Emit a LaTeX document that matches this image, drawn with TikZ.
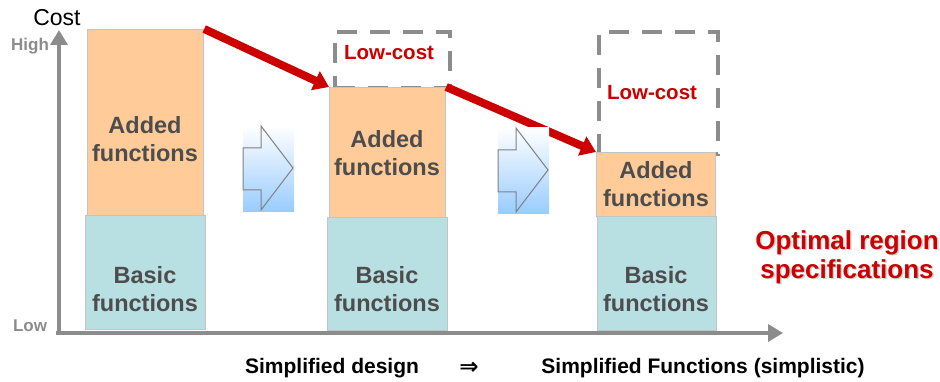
\documentclass[tikz,border=0pt]{standalone}
\usepackage{fontspec}
\setmainfont{Liberation Sans}
\newfontfamily\symfont{DejaVu Sans}
\usetikzlibrary{arrows.meta}

\definecolor{peach}{HTML}{FFCC99}
\definecolor{paleteal}{HTML}{B8DFE2}
\definecolor{edgegray}{HTML}{C4C4C4}
\definecolor{txtgray}{HTML}{4D4D4D}
\definecolor{axisgray}{HTML}{8C8C8C}
\definecolor{costred}{HTML}{CC0000}
\definecolor{skyblue}{HTML}{99CCFF}

\begin{document}
\begin{tikzpicture}[x=1pt,y=-1pt,
  bar/.style={draw=edgegray, line width=1.2pt, inner sep=0pt, anchor=north west},
  addbar/.style={bar, fill=peach},
  basebar/.style={bar, fill=paleteal},
  boxtxt/.style={text=txtgray, font=\fontsize{23.5}{28}\selectfont\bfseries, align=center, inner sep=0pt},
  dashbox/.style={draw=axisgray, line width=4pt, dash pattern=on 20pt off 13pt, inner sep=0pt, anchor=north west},
  lowtxt/.style={text=costred, font=\fontsize{20.5}{24}\selectfont\bfseries, inner sep=0pt},
  axis/.style={draw=axisgray, line width=3.5pt, -{Triangle[width=17pt,length=15pt]}},
  redarrow/.style={draw=costred, line width=8pt, -{Triangle[width=20pt,length=15pt]}},
  blockbg/.style={anchor=north west, inner sep=0pt, minimum width=51pt, minimum height=86pt,
    top color=white, bottom color=skyblue},
  blockline/.style={draw=gray, line width=1pt, line join=miter},
  axlabel/.style={text=axisgray, font=\fontsize{17}{20}\selectfont\bfseries, inner sep=0pt},
  captxt/.style={font=\fontsize{21}{24}\selectfont\bfseries, inner sep=0pt},
  notetxt/.style={font=\fontsize{26}{29}\selectfont\bfseries, align=center, inner sep=0pt}
]
\useasboundingbox (0,0) rectangle (940,382);

% axes
\coordinate (origin) at (59,333);
\coordinate (ytip) at (59,30);
\coordinate (xstart) at (56,333);
\coordinate (xtip) at (783,333);
\draw[axis] (origin) -- (ytip);
\draw[axis] (xstart) -- (xtip);
\node[font=\fontsize{23}{26}\selectfont, inner sep=0pt] (cost) at (57,18) {Cost};
\node[axlabel] (high) at (30,46) {High};
\node[axlabel] (low) at (30,326) {Low};

% dashed cost-reduction boxes
\node[dashbox, minimum width=115pt, minimum height=56pt] (cut2) at (333,30) {};
\node[dashbox, minimum width=119pt, minimum height=122pt] (cut3) at (597,30) {};

% stacked bars
\node[basebar, minimum width=120pt, minimum height=114pt] (bas1) at (85,215) {};
\node[addbar, minimum width=116pt, minimum height=186pt] (add1) at (87,29) {};
\node[basebar, minimum width=120pt, minimum height=113pt] (bas2) at (327,217) {};
\node[addbar, minimum width=116pt, minimum height=130pt] (add2) at (329,87) {};
\node[basebar, minimum width=119pt, minimum height=114pt] (bas3) at (597,216) {};
\node[addbar, minimum width=119pt, minimum height=64pt] (add3) at (596,152) {};

% bar labels
\node[boxtxt] (add1t) at (145,139) {Added\\functions};
\node[boxtxt] (bas1t) at (145,289) {Basic\\functions};
\node[boxtxt] (add2t) at (387,153) {Added\\functions};
\node[boxtxt] (bas2t) at (387,289) {Basic\\functions};
\node[boxtxt] (add3t) at (656,184) {Added\\functions};
\node[boxtxt] (bas3t) at (656,289) {Basic\\functions};
\node[lowtxt] (cut2t) at (389,53) {Low-cost};
\node[lowtxt] (cut3t) at (652,93) {Low-cost};

% cost trend arrows
\draw[redarrow] (add1.north east) -- (add2.north west);
\draw[redarrow] (add2.north east) -- (add3.north west);

% step arrows
\node[blockbg] (step1) at (243,125) {};
\node[blockbg] (step2) at (498,127) {};
\foreach \s in {step1,step2}{
  \begin{scope}[shift={(\s.north west)}]
    \draw[blockline] (0,23) -- (18,23) -- (18,1) -- (50,43) -- (18,85) -- (18,65) -- (0,65) -- cycle;
  \end{scope}
}

% side note with a soft shadow
\node[notetxt, text=black, opacity=0.18] (optshadow) at (848.5,258.5) {Optimal region\\specifications};
\node[notetxt, text=costred] (opt) at (847,257) {Optimal region\\specifications};

% captions
\node[captxt] (cap1) at (332,368) {Simplified design};
\node[captxt] (cap2) at (469,368) {\symfont\bfseries\fontsize{23}{26}\selectfont ⇒};
\node[captxt] (cap3) at (703,368) {Simplified Functions (simplistic)};
\end{tikzpicture}
\end{document}
